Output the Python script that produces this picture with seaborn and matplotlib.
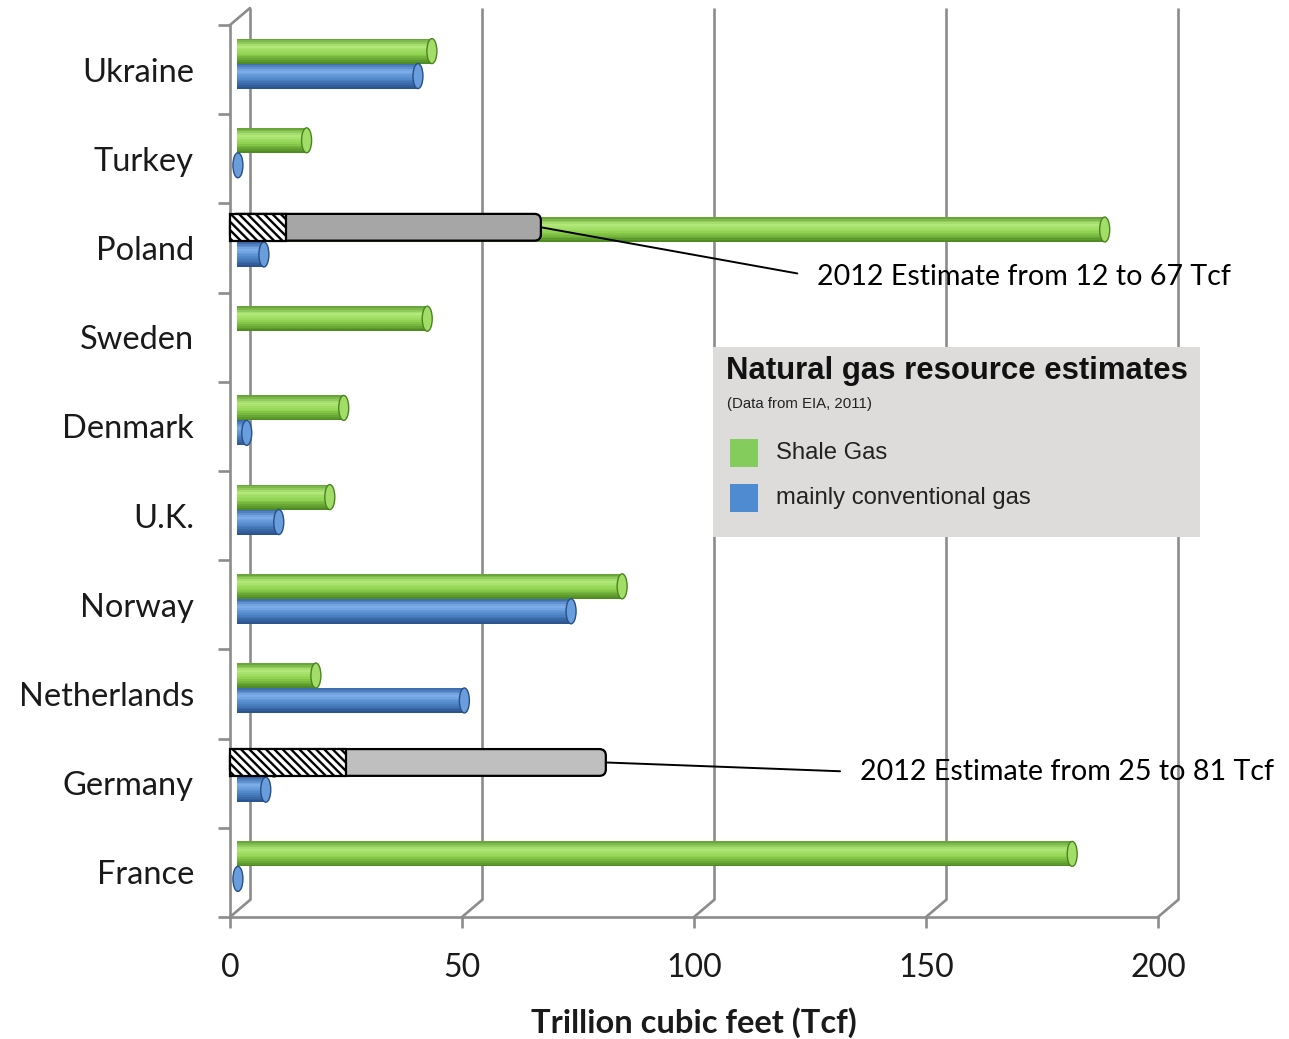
import numpy as np
import pandas as pd
import matplotlib
matplotlib.use("Agg")
import matplotlib.pyplot as plt
import matplotlib.colors as mcolors
from matplotlib.transforms import ScaledTranslation
from matplotlib.patches import Rectangle, Ellipse, FancyBboxPatch
import seaborn as sns

# ---- data (Tcf) ----
countries = ["Ukraine", "Turkey", "Poland", "Sweden", "Denmark",
             "U.K.", "Norway", "Netherlands", "Germany", "France"]
shale_gas = [42, 15, 187, 41, 23, 20, 83, 17, 8, 180]
conventional_gas = [39, 0.2, 5.8, 0, 2.1, 9, 72, 49, 6.2, 0.2]
series_names = ["Shale Gas", "mainly conventional gas"]
x_ticks = [0, 50, 100, 150, 200]

# 2012 revised shale estimates (low, high)
estimate_2012 = {"Poland": (12, 67), "Germany": (25, 81)}

W, H, DPI = 1289, 1039, 100
sns.set_theme(style="white")
plt.rcParams["font.family"] = ["Lato", "DejaVu Sans"]
plt.rcParams["hatch.linewidth"] = 1.7
plt.rcParams["text.color"] = "#1a1a1a"

fig = plt.figure(figsize=(W / DPI, H / DPI), dpi=DPI)
fig.patch.set_facecolor("white")

# front plane of the pseudo-3D box, in pixels
AX_L, AX_R, AX_T, AX_B = 230, 1158, 25, 917
ax = fig.add_axes([AX_L / W, (H - AX_B) / H, (AX_R - AX_L) / W, (AX_B - AX_T) / H])
ax.set_facecolor("none")

px_x = (AX_R - AX_L) / 200.0      # pixels per Tcf
px_y = (AX_B - AX_T) / 10.0       # pixels per category

df = pd.DataFrame({
    "country": countries * 2,
    "series": [series_names[0]] * len(countries) + [series_names[1]] * len(countries),
    "value": shale_gas + conventional_gas,
})

green, blue = "#8fd14f", "#4f87c9"
sns.barplot(data=df, y="country", x="value", hue="series", hue_order=series_names,
            order=countries, orient="h", palette=[green, blue], width=0.56,
            saturation=1, legend=False, ax=ax, zorder=3)

ax.set_xlim(0, 200)
ax.set_ylim(9.5, -0.5)

# ---- cylinder shading for the bars ----
bar_tr = ax.transData + ScaledTranslation(7 / DPI, 6 / DPI, fig.dpi_scale_trans)

stops = {
    green: ["#5f9d30", "#b3ea7c", "#8fd14f", "#4a8420"],
    blue: ["#3666a8", "#7fb0ea", "#4f87c9", "#274f8a"],
}


def profile_color(cols, t):
    pos = [0.0, 0.3, 0.62, 1.0]
    rgb = np.array([mcolors.to_rgb(c) for c in cols])
    return tuple(np.interp(t, pos, rgb[:, k]) for k in range(3))


bars = list(ax.patches)
for p in bars:
    x0, y0, w, h = p.get_x(), p.get_y(), p.get_width(), p.get_height()
    fc = mcolors.to_hex(p.get_facecolor())
    cols = stops[green] if fc == green else stops[blue]
    p.set_transform(bar_tr)
    p.set_edgecolor("none")
    if w <= 0:
        continue
    n = 14
    for i in range(n):
        t = (i + 0.5) / n
        ax.add_patch(Rectangle((x0, y0 + h * i / n), w, h / n * 1.02,
                               facecolor=profile_color(cols, t), edgecolor="none",
                               transform=bar_tr, zorder=3.2))
    ax.add_patch(Ellipse((x0 + w, y0 + h / 2), width=10 / px_x, height=h,
                         facecolor=profile_color(cols, 0.45), edgecolor=cols[3],
                         lw=1.0, transform=bar_tr, zorder=3.4))

# ---- back wall, floor links and front frame ----
grid_c = "#8c8c8c"
dx_back, dy_back = 20, 17
back_tr = ax.transData + ScaledTranslation(dx_back / DPI, dy_back / DPI, fig.dpi_scale_trans)
for xv in x_ticks:
    ax.plot([xv, xv], [9.5, -0.5], transform=back_tr, color=grid_c, lw=1.9,
            clip_on=False, zorder=1, solid_capstyle="butt")
    ax.plot([xv, xv + dx_back / px_x], [9.5, 9.5 - dy_back / px_y], color=grid_c,
            lw=1.9, clip_on=False, zorder=1)
ax.plot([0, dx_back / px_x], [-0.5, -0.5 - dy_back / px_y], color=grid_c, lw=1.9,
        clip_on=False, zorder=1)

for side in ["top", "right"]:
    ax.spines[side].set_visible(False)
for side in ["left", "bottom"]:
    ax.spines[side].set_color(grid_c)
    ax.spines[side].set_linewidth(1.9)

ax.set_xticks(x_ticks)
ax.set_xticklabels([str(v) for v in x_ticks], fontsize=23, color="#1a1a1a")
ax.set_yticks(range(len(countries)))
ax.set_yticklabels(countries, fontsize=23.5, color="#1a1a1a")
ax.set_yticks(np.arange(-0.5, 10, 1), minor=True)
ax.tick_params(axis="x", which="major", length=8, width=1.9, color=grid_c,
               direction="out", pad=18, bottom=True)
ax.tick_params(axis="y", which="major", length=0, pad=26, left=True)
ax.tick_params(axis="y", which="minor", length=9, width=1.9, color=grid_c,
               direction="out", left=True)
ax.set_ylabel("")
ax.set_xlabel("Trillion cubic feet (Tcf)", fontsize=23.5, fontweight="bold",
              labelpad=17, color="#1a1a1a")
ax.grid(False)

# ---- 2012 estimate overlays ----
box_tr = ax.transData + ScaledTranslation(0, 2 / DPI, fig.dpi_scale_trans)
box_h = 0.30
overlay_fill = {"Poland": "#a6a6a6", "Germany": "#bfbfbf"}
label_pos = {"Poland": (817, 277), "Germany": (860, 772)}
for name, (lo, hi) in estimate_2012.items():
    idx = countries.index(name)
    yc = idx - 0.14 - 0.07
    gray = FancyBboxPatch((0, yc - box_h / 2), hi, box_h,
                          boxstyle="round,pad=0,rounding_size=1.4",
                          mutation_aspect=px_x / px_y,
                          facecolor=overlay_fill[name], edgecolor="black", lw=1.6,
                          transform=box_tr, zorder=5, clip_on=False)
    ax.add_patch(gray)
    ax.add_patch(Rectangle((0, yc - box_h / 2), lo, box_h, facecolor="white",
                           edgecolor="black", hatch="\\\\\\\\", lw=1.6,
                           transform=box_tr, zorder=5.5, clip_on=False))
    tx_px, ty_px = label_pos[name]
    tx = (tx_px - AX_L) / px_x
    ty = (ty_px - AX_T) / px_y - 0.5
    ax.annotate(f"2012 Estimate from {lo} to {hi} Tcf", xy=(hi, yc - 2 / px_y),
                xytext=(tx, ty), textcoords="data", fontsize=20.6, ha="left",
                va="center", annotation_clip=False, zorder=6, color="black",
                arrowprops=dict(arrowstyle="-", color="black", lw=1.4,
                                shrinkA=12, shrinkB=0, relpos=(0, 0.5)))

# ---- legend panel ----
def fx(px):
    return px / W


def fy(py):
    return 1 - py / H


fig.add_artist(Rectangle((fx(713), fy(537)), fx(1200) - fx(713), fy(347) - fy(537),
                         transform=fig.transFigure, facecolor="#dddcdb",
                         edgecolor="none", zorder=7))
leg_font = ["Liberation Sans", "DejaVu Sans"]
fig.text(fx(726), fy(371), "Natural gas resource estimates", family=leg_font,
         fontsize=22.4, fontweight="bold", ha="left", va="center", color="#111111", zorder=8)
fig.text(fx(727), fy(404), "(Data from EIA, 2011)", family=leg_font, fontsize=10.8,
         ha="left", va="center", color="#222222", zorder=8)
swatch = {series_names[0]: ("#84cc5c", 453), series_names[1]: ("#4e8bd1", 498)}
for label, (col, yy) in swatch.items():
    fig.add_artist(Rectangle((fx(730), fy(yy + 14)), fx(758) - fx(730), fy(yy - 14) - fy(yy + 14),
                             transform=fig.transFigure, facecolor=col, edgecolor="none",
                             zorder=8))
    fig.text(fx(776), fy(yy), label, family=leg_font, fontsize=17.2, ha="left",
             va="center", color="#222222", zorder=8)

fig.savefig("out.png", dpi=DPI)
